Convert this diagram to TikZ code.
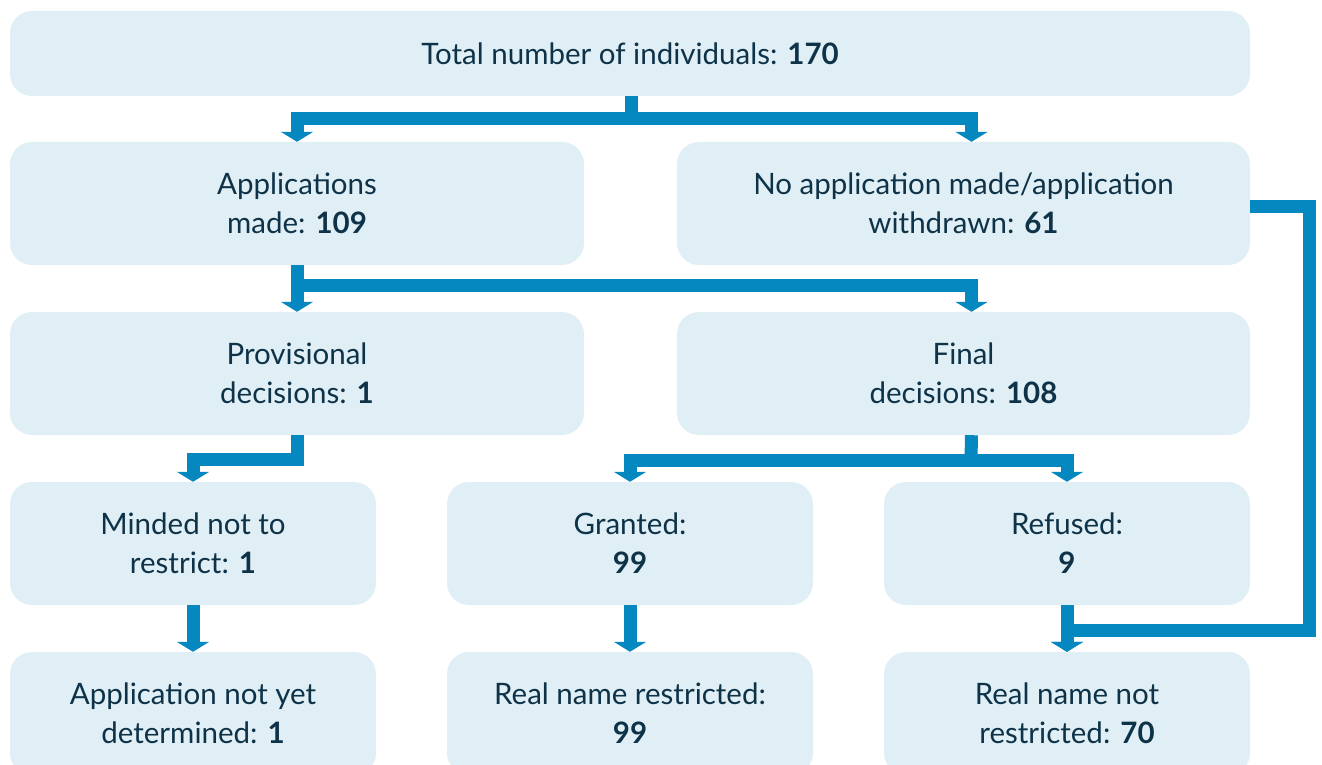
\documentclass[tikz,border=0pt]{standalone}
\usepackage{fontspec}
\setmainfont{Lato}
\usetikzlibrary{arrows.meta}
\definecolor{boxfill}{HTML}{E0EFF5}
\definecolor{txt}{HTML}{0E3248}
\definecolor{arrowc}{HTML}{0587BF}
\tikzset{
  box/.style={fill=boxfill, draw=none, rounded corners=22pt, text=txt, align=center,
    font=\fontsize{29.5}{39}\selectfont, inner sep=0pt},
  conn/.style={draw=arrowc, line width=13pt, line join=miter, line cap=butt},
  arr/.style={conn, -{Triangle[width=32pt,length=10pt]}}
}
\begin{document}
\begin{tikzpicture}[x=1pt,y=-1pt]
\useasboundingbox (0,0) rectangle (1322,765);
\clip (0,0) rectangle (1322,765);
% boxes
\node[box, minimum width=1240pt, minimum height=85pt] (top) at (630,53.5) {Total number of individuals: \textbf{170}};
\node[box, minimum width=574pt, minimum height=123pt] (app) at (297,203.5) {Applications\\made: \textbf{109}};
\node[box, minimum width=573pt, minimum height=123pt] (noapp) at (963.5,203.5) {No application made/application\\withdrawn: \textbf{61}};
\node[box, minimum width=574pt, minimum height=123pt] (prov) at (297,373.5) {Provisional\\decisions: \textbf{1}};
\node[box, minimum width=573pt, minimum height=123pt] (final) at (963.5,373.5) {Final\\decisions: \textbf{108}};
\node[box, minimum width=366pt, minimum height=123pt] (minded) at (193,543.5) {Minded not to\\restrict: \textbf{1}};
\node[box, minimum width=366pt, minimum height=123pt] (granted) at (630,543.5) {Granted:\\\textbf{99}};
\node[box, minimum width=366pt, minimum height=123pt] (refused) at (1067,543.5) {Refused:\\\textbf{9}};
\node[box, minimum width=366pt, minimum height=123pt] (notyet) at (193,713.5) {Application not yet\\determined: \textbf{1}};
\node[box, minimum width=366pt, minimum height=123pt] (restr) at (630,713.5) {Real name restricted:\\\textbf{99}};
\node[box, minimum width=366pt, minimum height=123pt] (notrestr) at (1067,713.5) {Real name not\\restricted: \textbf{70}};
% junctions
\coordinate (j1) at (631,118.5);
\coordinate (j2) at (297,285);
\coordinate (j3) at (297,459.5);
\coordinate (j4) at (971,460);
\coordinate (rc) at (1309.5,630);
% connectors
\draw[conn] ([xshift=1pt]top.south) -- (j1);
\draw[arr] (j1) -| (app.north);
\draw[arr] (j1) -| ([xshift=8pt]noapp.north);
\draw[arr] (app.south) -- (prov.north);
\draw[arr] (j2) -| ([xshift=8pt]final.north);
\draw[arr] (prov.south) -- (j3) -| (minded.north);
\draw[conn] ([xshift=8pt]final.south) -- (j4);
\draw[arr] (j4) -| (granted.north);
\draw[arr] (j4) -| (refused.north);
\draw[arr] (minded.south) -- (notyet.north);
\draw[arr] (granted.south) -- (restr.north);
\draw[arr] (refused.south) -- (notrestr.north);
\draw[arr] ([yshift=-3pt]noapp.east) -| (rc) -| (notrestr.north);
\end{tikzpicture}
\end{document}
